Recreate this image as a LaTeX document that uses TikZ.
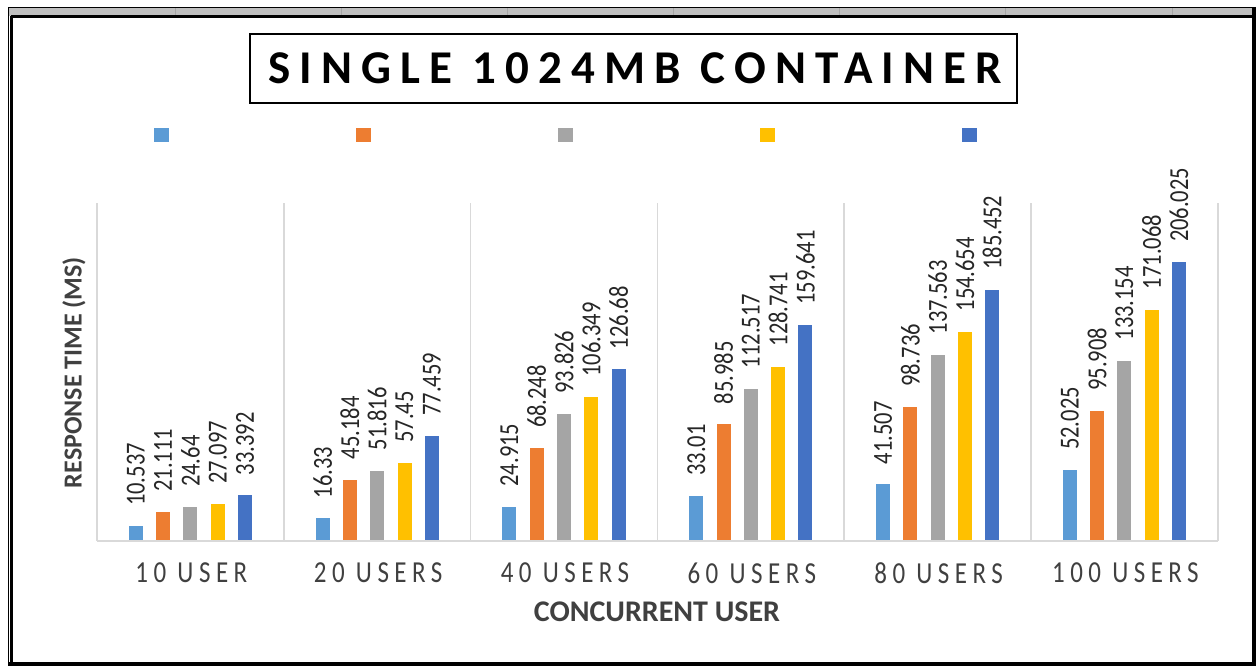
\documentclass[tikz,border=0pt]{standalone}
\usepackage{fontspec}
\usepackage{graphicx}
\setmainfont{Carlito}
\newfontfamily\catfont{Carlito}[LetterSpace=22]
\newfontfamily\titlefont{Carlito}[LetterSpace=19.5]
\definecolor{s1}{HTML}{5B9BD5}
\definecolor{s2}{HTML}{ED7D31}
\definecolor{s3}{HTML}{A5A5A5}
\definecolor{s4}{HTML}{FFC000}
\definecolor{s5}{HTML}{4472C4}
\definecolor{gridc}{HTML}{D9D9D9}
\newcommand{\tallt}[1]{\scalebox{1}[1.22]{#1}}
\tikzset{
  grid line/.style={draw=gridc, line width=0.75pt},
  data label/.style={rotate=90, anchor=west, inner sep=0pt, text=black!85, font=\fontsize{11.25}{13}\selectfont},
  cat label/.style={inner sep=0pt, text=black!75, font=\catfont\fontsize{12.5}{15}\selectfont},
  axis title/.style={inner sep=0pt, text=black!75, font=\bfseries},
}
\begin{document}
\begin{tikzpicture}[x=0.5pt,y=-0.5pt]
\useasboundingbox (0,0) rectangle (1260,666);
\fill[white] (0,0) rectangle (1260,666);
% outer frame
\fill[gray!50] (9,8) rectangle (1253,15.5);
\foreach \sx in {175,341,507,673,839,1005,1172} \draw[gray!70, line width=0.4pt] (\sx,8) -- (\sx,15.5);
\draw[black, line width=0.7pt] (8,7.5) -- (1255,7.5);
\draw[black, line width=1.3pt] (11,16.5) -- (1253,16.5);
\draw[black, line width=0.8pt] (8.5,7) -- (8.5,666);
\draw[black, line width=1.8pt] (11.5,16) -- (11.5,665);
\draw[black, line width=2pt] (1253.5,7) -- (1253.5,666);
\draw[black, line width=2pt] (8,664) -- (1255,664);
% title
\node[draw=black, line width=1pt, minimum width=383.5pt, minimum height=34.5pt, inner sep=0pt,
      font=\titlefont\bfseries\fontsize{23.5}{28}\selectfont] (title) at (633.5,68.5) {\hspace*{1.5pt}SINGLE 1024MB CONTAINER};
% legend
\foreach \i in {1,...,5} {
  \pgfmathsetmacro\lx{161+202*(\i-1)}
  \fill[s\i] (\lx-7.5,128) rectangle (\lx+7.5,142);
}
% grid
\foreach \k in {0,...,6} {
  \pgfmathsetmacro\gx{97+186.8*\k}
  \draw[grid line] (\gx,203) -- (\gx,540.5);
}
\draw[draw=gridc, line width=1pt] (97,540.5) -- (1218,540.5);
% bars
\foreach \cl/\vals [count=\ci from 0] in {
  10 USER/{10.537,21.111,24.64,27.097,33.392},
  20 USERS/{16.33,45.184,51.816,57.45,77.459},
  40 USERS/{24.915,68.248,93.826,106.349,126.68},
  60 USERS/{33.01,85.985,112.517,128.741,159.641},
  80 USERS/{41.507,98.736,137.563,154.654,185.452},
  100 USERS/{52.025,95.908,133.154,171.068,206.025}} {
  \pgfmathsetmacro\cx{97+186.8*\ci+93.4}
  \node[cat label] (cat\ci) at (\cx+1,573) {\tallt{\cl}};
  \foreach \v [count=\j from 1] in \vals {
    \pgfmathsetmacro\bx{\cx+(\j-3)*27.3}
    \pgfmathsetmacro\by{540.5-1.35*\v}
    \fill[s\j] (\bx-7,540) rectangle (\bx+7,\by);
    \node[data label] (lab\ci-\j) at (\bx,\by-20) {\tallt{\v}};
  }
}
% axis titles
\node[axis title, font=\bfseries\fontsize{15}{18}\selectfont] (xtitle) at (657,612) {CONCURRENT USER};
\node[axis title, rotate=90, font=\bfseries\fontsize{13}{16}\selectfont] (ytitle) at (74,372.5) {RESPONSE TIME (MS)};
\end{tikzpicture}
\end{document}
